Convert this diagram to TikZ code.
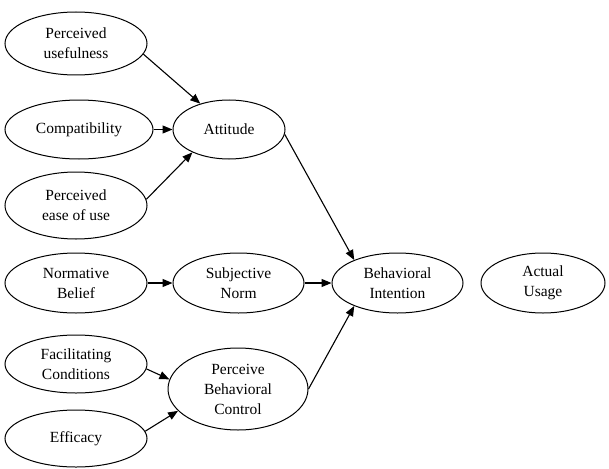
\documentclass[tikz,border=0pt]{standalone}
\usepackage{fontspec}
\setmainfont{Liberation Serif}
\usetikzlibrary{shapes.geometric,arrows.meta}
\begin{document}
\begin{tikzpicture}[x=1pt,y=-1pt,
  ell/.style={draw,ellipse,line width=1pt,inner sep=0pt,align=center,font=\fontsize{15.5}{20}\selectfont},
  arr/.style={line width=1.1pt,-{Triangle[length=10pt,width=8pt]}}]
\useasboundingbox (0,0) rectangle (609,468);
\node[ell,minimum width=142pt,minimum height=63pt] (pu) at (76,43.5) {Perceived\\usefulness};
\node[ell,minimum width=148pt,minimum height=59pt] (comp) at (79,129.5) {Compatibility};
\node[ell,minimum width=112pt,minimum height=59pt] (att) at (229,129.5) {Attitude};
\node[ell,minimum width=142pt,minimum height=67pt] (peou) at (76,205.5) {Perceived\\ease of use};
\node[ell,minimum width=142pt,minimum height=60pt] (nb) at (76,283) {Normative\\Belief};
\node[ell,minimum width=131pt,minimum height=60pt] (sn) at (238.5,283) {Subjective\\Norm};
\node[ell,minimum width=142pt,minimum height=58pt] (fc) at (76,364) {Facilitating\\Conditions};
\node[ell,minimum width=140pt,minimum height=82pt] (pbc) at (238,389) {Perceive\\Behavioral\\Control};
\node[ell,minimum width=142pt,minimum height=57pt] (eff) at (76,438.5) {Efficacy};
\node[ell,minimum width=131pt,minimum height=60pt] (bi) at (397.5,283) {Behavioral\\Intention};
\node[ell,minimum width=124pt,minimum height=60pt] (au) at (543,283) {Actual\\Usage};
\draw[arr] (pu.-9) -- (att.138);
\draw[arr] (comp.east) -- (att.west);
\draw[arr] (peou.5) -- (att.212);
\draw[arr] (nb.east) -- (sn.west);
\draw[arr] (fc.-4) -- (pbc.172);
\draw[arr] (eff.6) -- (pbc.200);
\draw[arr] (att.-5) -- (bi.152);
\draw[arr] (sn.east) -- (bi.west);
\draw[arr] (pbc.east) -- (bi.208);
\end{tikzpicture}
\end{document}
